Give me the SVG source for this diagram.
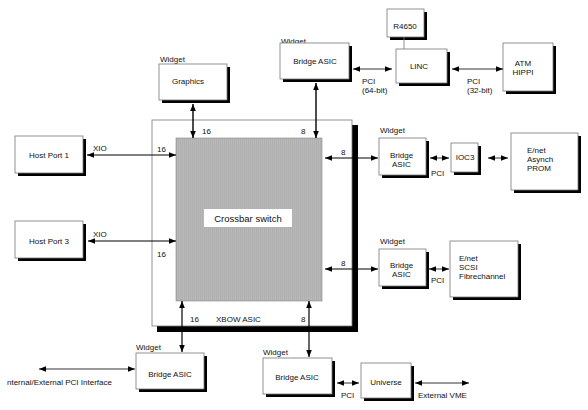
<svg xmlns="http://www.w3.org/2000/svg" width="588" height="410" viewBox="0 0 588 410">
<defs>
<marker id="ah" viewBox="0 0 10 10" refX="10" refY="5" markerWidth="7" markerHeight="7" markerUnits="userSpaceOnUse" orient="auto-start-reverse">
<path d="M0,1 L10,5 L0,9 z" fill="#000"/>
</marker>
<pattern id="vl" width="2" height="4" patternUnits="userSpaceOnUse">
<rect width="2" height="4" fill="#b8b8b8"/>
<rect width="1" height="4" fill="#b0b0b0"/>
</pattern>
</defs>
<style>
text{font-family:"Liberation Sans",Arial,sans-serif;font-size:8px;fill:#111}
.c{text-anchor:middle}
.box{fill:#fff;stroke:#777;stroke-width:0.8}
.sh{fill:#000}
.ln{stroke:#000;stroke-width:0.8;fill:none;marker-start:url(#ah);marker-end:url(#ah)}
.tk{stroke:#000;stroke-width:1.4;fill:none;marker-start:url(#ah);marker-end:url(#ah)}
.plain{stroke:#777;stroke-width:0.8}
</style>
<rect width="588" height="410" fill="#fff"/>

<g id="xbow">
<rect class="sh" x="157" y="125" width="201" height="207"/>
<rect class="box" x="152" y="120" width="200" height="206"/>
<text x="216" y="322">XBOW ASIC</text>
</g>
<g id="crossbar">
<rect x="176" y="138" width="146" height="163" fill="url(#vl)" stroke="#888" stroke-width="0.6"/>
<rect x="204" y="209" width="88" height="18" fill="#fff"/>
<text class="c" x="248" y="222" style="font-size:9.5px">Crossbar switch</text>
</g>

<g id="graphics">
<text x="160" y="62">Widget</text>
<rect class="sh" x="162" y="67" width="68" height="36"/>
<rect class="box" x="159" y="64" width="68" height="36"/>
<text class="c" x="188" y="84">Graphics</text>
</g>

<g id="bridge-top">
<text x="281" y="44">Widget</text>
<rect class="sh" x="283" y="46" width="69" height="36"/>
<rect class="box" x="280" y="43" width="69" height="36"/>
<text class="c" x="315" y="64">Bridge ASIC</text>
</g>

<g id="r4650">
<rect class="sh" x="390" y="12" width="37" height="28"/>
<rect class="box" x="387" y="9" width="37" height="28"/>
<text class="c" x="405" y="29">R4650</text>
</g>

<g id="linc">
<rect class="sh" x="399" y="52" width="51" height="34"/>
<rect class="box" x="396" y="49" width="51" height="34"/>
<text class="c" x="419" y="69">LINC</text>
</g>

<g id="atm">
<rect class="sh" x="506" y="46" width="50" height="48"/>
<rect class="box" x="503" y="43" width="50" height="48"/>
<text class="c" x="523" y="66">ATM</text>
<text class="c" x="523" y="75">HIPPI</text>
</g>

<g id="hostport1">
<rect class="sh" x="18" y="139" width="68" height="37"/>
<rect class="box" x="15" y="136" width="68" height="37"/>
<text class="c" x="49" y="158">Host Port 1</text>
</g>

<g id="hostport3">
<rect class="sh" x="18" y="224" width="68" height="37"/>
<rect class="box" x="15" y="221" width="68" height="37"/>
<text class="c" x="49" y="244">Host Port 3</text>
</g>

<g id="bridge-r1">
<text x="380" y="133">Widget</text>
<rect class="sh" x="382" y="141" width="47" height="37"/>
<rect class="box" x="379" y="138" width="47" height="37"/>
<text x="390" y="158">Bridge</text>
<text x="392" y="167">ASIC</text>
</g>

<g id="ioc3">
<rect class="sh" x="454" y="146" width="27" height="29"/>
<rect class="box" x="451" y="143" width="27" height="29"/>
<text class="c" x="465" y="160">IOC3</text>
</g>

<g id="enet1">
<rect class="sh" x="514" y="136" width="67" height="57"/>
<rect class="box" x="511" y="133" width="67" height="57"/>
<text x="527" y="153">E/net</text>
<text x="527" y="162">Asynch</text>
<text x="527" y="171">PROM</text>
</g>

<g id="bridge-r2">
<text x="380" y="244">Widget</text>
<rect class="sh" x="382" y="252" width="47" height="37"/>
<rect class="box" x="379" y="249" width="47" height="37"/>
<text x="390" y="268">Bridge</text>
<text x="392" y="277">ASIC</text>
</g>

<g id="enet2">
<rect class="sh" x="453" y="244" width="68" height="56"/>
<rect class="box" x="450" y="241" width="68" height="56"/>
<text x="459" y="261">E/net</text>
<text x="459" y="270">SCSI</text>
<text x="459" y="279">Fibrechannel</text>
</g>

<g id="bridge-bl">
<text x="136" y="350">Widget</text>
<rect class="sh" x="139" y="356" width="68" height="36"/>
<rect class="box" x="136" y="353" width="68" height="36"/>
<text class="c" x="170" y="377">Bridge ASIC</text>
</g>

<g id="bridge-br">
<text x="263" y="355">Widget</text>
<rect class="sh" x="266" y="361" width="69" height="36"/>
<rect class="box" x="263" y="358" width="69" height="36"/>
<text class="c" x="297" y="380">Bridge ASIC</text>
</g>

<g id="universe">
<rect class="sh" x="364" y="366" width="50" height="35"/>
<rect class="box" x="361" y="363" width="50" height="35"/>
<text class="c" x="386" y="385">Universe</text>
</g>

<g id="connectors">
<line class="plain" x1="404" y1="37" x2="404" y2="49"/>
<line class="tk" x1="193" y1="104" x2="193" y2="138"/>
<line class="tk" x1="316" y1="83" x2="316" y2="138"/>
<line class="ln" x1="353" y1="69" x2="392" y2="69"/>
<line class="ln" x1="452" y1="69" x2="503" y2="69"/>
<line class="ln" style="stroke-width:1" x1="87" y1="155" x2="176" y2="155"/>
<line class="ln" style="stroke-width:1" x1="88" y1="241" x2="176" y2="241"/>
<line class="ln" style="stroke-width:1" x1="325" y1="158" x2="378" y2="158"/>
<line class="ln" x1="430" y1="158" x2="449" y2="158"/>
<line class="ln" x1="488" y1="158" x2="508" y2="158"/>
<line class="ln" style="stroke-width:1" x1="325" y1="269" x2="378" y2="269"/>
<line class="ln" x1="429" y1="269" x2="449" y2="269"/>
<line class="tk" style="stroke-width:1.2" x1="182" y1="301" x2="182" y2="352"/>
<line class="tk" style="stroke-width:1.2" x1="309" y1="301" x2="309" y2="357"/>
<line class="ln" x1="39" y1="369" x2="135" y2="369"/>
<line class="ln" x1="337" y1="383" x2="359" y2="383"/>
<line class="ln" x1="415" y1="383" x2="469" y2="383"/>
</g>

<g id="labels">
<text x="202" y="134">16</text>
<text x="301" y="134">8</text>
<text x="362" y="84">PCI</text>
<text x="362" y="93">(64-bit)</text>
<text x="467" y="84">PCI</text>
<text x="467" y="93">(32-bit)</text>
<text x="93" y="151">XIO</text>
<text x="157" y="152">16</text>
<text x="93" y="237">XIO</text>
<text x="157" y="257">16</text>
<text x="341" y="155">8</text>
<text x="341" y="266">8</text>
<text x="431" y="176">PCI</text>
<text x="431" y="283">PCI</text>
<text x="190" y="322">16</text>
<text x="301" y="322">8</text>
<text x="7" y="385">nternal/External PCI Interface</text>
<text x="341" y="398">PCI</text>
<text x="418" y="398">External VME</text>
</g>
</svg>
